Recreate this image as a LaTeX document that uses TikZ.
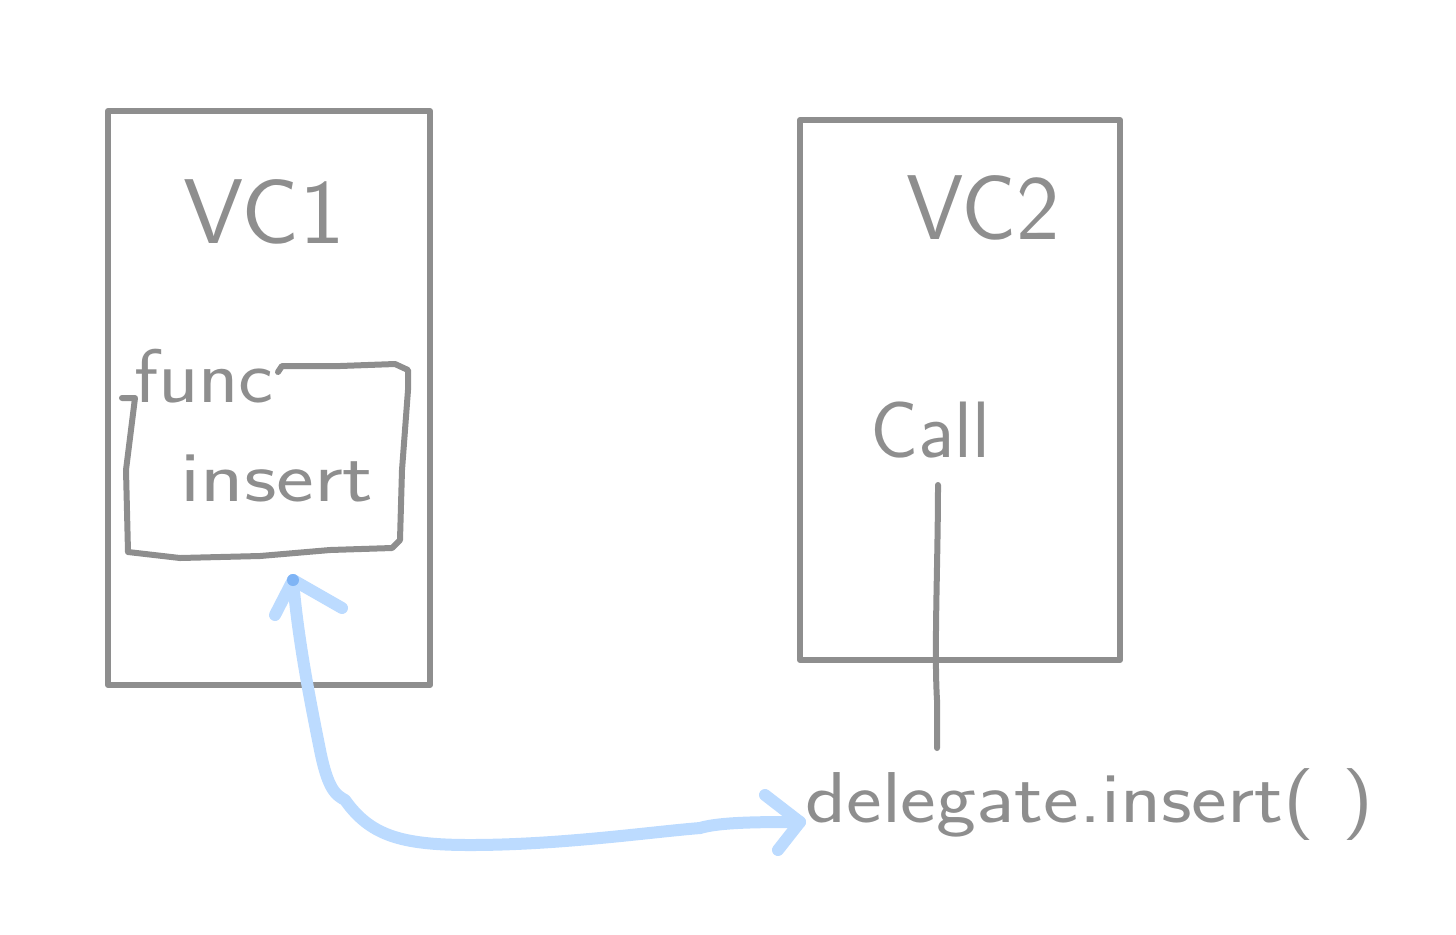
\documentclass[tikz,border=0pt]{standalone}
\usepackage{fontspec}
\usetikzlibrary{calc}
\definecolor{pen}{HTML}{8E8E8E}
\definecolor{hl}{HTML}{BCDBFF}
\definecolor{hldark}{HTML}{7FB4F5}
\tikzset{
  sketch/.style={draw=pen, line width=3pt, line cap=round, line join=round},
  hand/.style={text=pen, font=\fontsize{#1}{#1}\selectfont\sffamily, inner sep=0pt},
  hand/.default=30,
  marker/.style={draw=hl, line width=6pt, line cap=round, line join=round},
}
\begin{document}
\begin{tikzpicture}[x=0.5pt,y=-0.5pt]
\useasboundingbox (0,0) rectangle (1456,934);
% boxes
\node[sketch, minimum width=161pt, minimum height=287pt, inner sep=0pt] (vc1box) at (269,398) {};
\node[sketch, minimum width=160pt, minimum height=270pt, inner sep=0pt] (vc2box) at (960,390) {};
% titles
\node[hand=46] (vc1) at (264,212) {\scalebox{1.05}[1]{VC1}};
\node[hand=46] (vc2) at (983,208) {VC2};
% inner function box
\draw[sketch] (122,398) -- (135,398) -- (126,470) -- (128,552) -- (180,558) -- (260,556) -- (330,550) -- (392,548) -- (400,540) -- (402,470) -- (408,390) -- (408,370) -- (395,364) -- (340,366) -- (282,366) -- (278,372);
\coordinate (fnbottom) at (293,580);
\node[hand=38] (func) at (204,376) {\scalebox{1.1}[1]{func}};
\node[hand=36] (insert) at (277,478) {\scalebox{1.25}[1]{insert}};
% VC2 content
\node[hand=40] (call) at (930,430) {Call};
\node[hand=36, anchor=west] (deleg) at (805,805) {\scalebox{1.18}[1]{delegate.insert(\,\,)}};
\coordinate (calltop) at (938,485);
\coordinate (callbot) at (937,748);
\draw[sketch] (calltop) .. controls (938,560) and (934,650) .. (937,700) -- (callbot);
% blue double arrow
\coordinate (arrR) at (800,822);
\draw[marker] (fnbottom) .. controls (298,640) and (310,700) .. (320,750)
  .. controls (328,790) and (336,795) .. (345,800)
  .. controls (370,835) and (400,845) .. (470,845)
  .. controls (560,845) and (650,832) .. (700,828)
  .. controls (720,822) and (760,822) .. (arrR);
\draw[marker] (275,615) -- (fnbottom) -- (342,608);
\draw[marker] (765,795) -- (arrR) -- (778,850);
\fill[hldark] (fnbottom) circle (6);
\end{tikzpicture}
\end{document}
